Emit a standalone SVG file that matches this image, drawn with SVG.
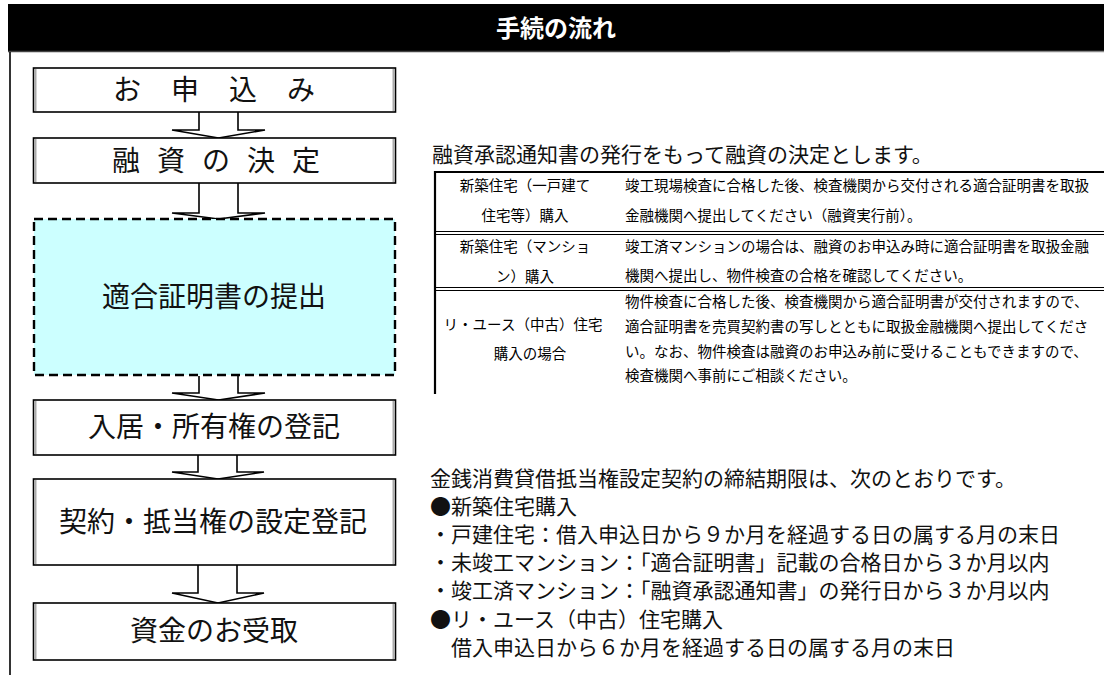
<svg xmlns="http://www.w3.org/2000/svg" width="1104" height="675" viewBox="0 0 1104 675">
<style>
.box{fill:#fff;stroke:#000;stroke-width:1.6}
.edge{stroke:#aaa;stroke-width:2}
.dash{fill:#ccffff;stroke:#000;stroke-width:2.4;stroke-dasharray:9 5}
.ft{font-family:"Noto Sans CJK JP","Noto Sans",sans-serif;font-size:28px;fill:#111}
.arr{fill:#fff;stroke:#000;stroke-width:1.6;stroke-linejoin:miter}
.rt{font-family:"Noto Sans CJK JP","Liberation Serif",serif;font-size:21px;fill:#111}
.tt{font-family:"Noto Sans CJK JP",sans-serif;font-size:14.5px;fill:#000}
.tl{stroke:#000;stroke-width:1.2}
</style>
<rect x="0" y="0" width="1104" height="675" fill="#fff"/>
<g id="header">
<rect x="8" y="4" width="1096" height="48" fill="#000"/>
<line x1="8" y1="51.5" x2="730" y2="51.5" stroke="#444" stroke-width="1.5"/>
<line x1="730" y1="51.5" x2="1104" y2="51.5" stroke="#888" stroke-width="1.5"/>
<text x="556" y="37" text-anchor="middle" font-family="Noto Sans CJK JP,sans-serif" font-size="24" font-weight="bold" fill="#fff">手続の流れ</text>
</g>
<line x1="10" y1="52" x2="10" y2="675" stroke="#000" stroke-width="1.6"/>
<g id="connectors">
<path class="arr" d="M199,112 V130 H172 L218.5,138 L265,130 H238 V112"/>
<path class="arr" d="M199,183 V213 H172 L218.5,219 L265,213 H238 V183"/>
<path class="arr" d="M199,376 V393 H172 L218.5,400 L265,393 H238 V376"/>
<path class="arr" d="M198,455 V472 H172 L218,479 L264,472 H237 V455"/>
<path class="arr" d="M198,565 V593 H172 L218,603 L264,593 H237 V565"/>
</g>
<g id="n1">
<rect class="box" x="33.5" y="68" width="362" height="44"/>
<line class="edge" x1="35.5" y1="69" x2="35.5" y2="111"/><line class="edge" x1="393.5" y1="69" x2="393.5" y2="111"/>
<text class="ft" y="100"><tspan x="113">お</tspan><tspan x="171">申</tspan><tspan x="229">込</tspan><tspan x="287">み</tspan></text>
</g>
<g id="n2">
<rect class="box" x="33.5" y="138" width="362" height="45"/>
<line class="edge" x1="35.5" y1="139" x2="35.5" y2="182"/><line class="edge" x1="393.5" y1="139" x2="393.5" y2="182"/>
<text class="ft" y="171"><tspan x="112">融</tspan><tspan x="157">資</tspan><tspan x="202">の</tspan><tspan x="247">決</tspan><tspan x="292">定</tspan></text>
</g>
<g id="n3">
<rect class="dash" x="34" y="219" width="361" height="156"/>
<text class="ft" x="214" y="307" text-anchor="middle">適合証明書の提出</text>
</g>
<g id="n4">
<rect class="box" x="33.5" y="400" width="362" height="55"/>
<line class="edge" x1="35.5" y1="401" x2="35.5" y2="454"/><line class="edge" x1="393.5" y1="401" x2="393.5" y2="454"/>
<text class="ft" x="214" y="437" text-anchor="middle">入居・所有権の登記</text>
</g>
<g id="n5">
<rect class="box" x="33.5" y="479" width="362" height="86"/>
<line class="edge" x1="35.5" y1="480" x2="35.5" y2="564"/><line class="edge" x1="393.5" y1="480" x2="393.5" y2="564"/>
<text class="ft" x="213" y="532" text-anchor="middle">契約・抵当権の設定登記</text>
</g>
<g id="n6">
<rect class="box" x="33.5" y="603" width="362" height="57"/>
<line class="edge" x1="35.5" y1="604" x2="35.5" y2="659"/><line class="edge" x1="393.5" y1="604" x2="393.5" y2="659"/>
<text class="ft" x="214" y="641" text-anchor="middle">資金のお受取</text>
</g>
<g id="note1">
<text class="rt" x="432" y="162">融資承認通知書の発行をもって融資の決定とします。</text>
</g>
<g id="table">
<line x1="434" y1="172" x2="1104" y2="172" stroke="#000" stroke-width="2.2"/>
<line x1="435" y1="171" x2="435" y2="394" stroke="#000" stroke-width="2.2"/>
<line class="tl" x1="434" y1="231.5" x2="1104" y2="231.5"/><line class="tl" x1="434" y1="234.5" x2="1104" y2="234.5"/>
<line class="tl" x1="434" y1="287.5" x2="1104" y2="287.5"/><line class="tl" x1="434" y1="290.5" x2="1104" y2="290.5"/>
<text class="tt" x="525" y="191" text-anchor="middle">新築住宅（一戸建て</text>
<text class="tt" x="525" y="221" text-anchor="middle">住宅等）購入</text>
<text class="tt" x="625" y="191">竣工現場検査に合格した後、検査機関から交付される適合証明書を取扱</text>
<text class="tt" x="625" y="221">金融機関へ提出してください（融資実行前）。</text>
<text class="tt" x="525" y="252" text-anchor="middle">新築住宅（マンショ</text>
<text class="tt" x="525" y="282" text-anchor="middle">ン）購入</text>
<text class="tt" x="625" y="252">竣工済マンションの場合は、融資のお申込み時に適合証明書を取扱金融</text>
<text class="tt" x="625" y="281">機関へ提出し、物件検査の合格を確認してください。</text>
<text class="tt" x="523" y="330" text-anchor="middle">リ・ユース（中古）住宅</text>
<text class="tt" x="530" y="359" text-anchor="middle">購入の場合</text>
<text class="tt" x="625" y="307">物件検査に合格した後、検査機関から適合証明書が交付されますので、</text>
<text class="tt" x="625" y="332">適合証明書を売買契約書の写しとともに取扱金融機関へ提出してくださ</text>
<text class="tt" x="625" y="357">い。なお、物件検査は融資のお申込み前に受けることもできますので、</text>
<text class="tt" x="625" y="381">検査機関へ事前にご相談ください。</text>
</g>
<g id="note2">
<text class="rt" x="430" y="486">金銭消費貸借抵当権設定契約の締結期限は、次のとおりです。</text>
<text class="rt" x="430" y="514">●新築住宅購入</text>
<text class="rt" x="430" y="542">・戸建住宅：借入申込日から９か月を経過する日の属する月の末日</text>
<text class="rt" x="430" y="570">・未竣工マンション：「適合証明書」記載の合格日から３か月以内</text>
<text class="rt" x="430" y="598">・竣工済マンション：「融資承認通知書」の発行日から３か月以内</text>
<text class="rt" x="430" y="627">●リ・ユース（中古）住宅購入</text>
<text class="rt" x="451" y="655">借入申込日から６か月を経過する日の属する月の末日</text>
</g>
</svg>
